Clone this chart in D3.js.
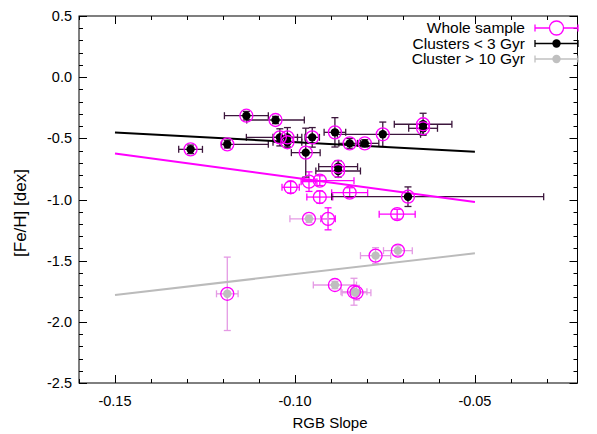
<!DOCTYPE html>
<html><head><meta charset="utf-8">
<script src="https://cdn.jsdelivr.net/npm/d3@7"></script>
<style>body{margin:0;background:#fff}svg{display:block}text{font-family:"Liberation Sans",Arial,sans-serif}</style>
</head><body>
<script>
// Clusters < 3 Gyr: x, y, x-low, x-high, y error
const youngX   = [-0.1135,-0.1054,-0.1290,-0.1188,-0.1042,-0.1021,-0.1021,-0.0970,-0.0952,-0.0889,-0.0848,-0.0806,-0.0756,-0.0644,-0.0644,-0.0880,-0.0880,-0.0686];
const youngY   = [-0.315,-0.350,-0.590,-0.549,-0.492,-0.492,-0.532,-0.617,-0.492,-0.451,-0.541,-0.541,-0.467,-0.385,-0.418,-0.732,-0.767,-0.977];
const youngXlo = [-0.1196,-0.1134,-0.1323,-0.1204,-0.1135,-0.1061,-0.1061,-0.1010,-0.0972,-0.0919,-0.0878,-0.0826,-0.0882,-0.0724,-0.0684,-0.0934,-0.0942,-0.0898];
const youngXhi = [-0.1074,-0.0974,-0.1257,-0.1074,-0.0993,-0.0981,-0.0981,-0.0930,-0.0932,-0.0859,-0.0818,-0.0767,-0.0651,-0.0564,-0.0604,-0.0826,-0.0818,-0.0309];
const youngYerr= [0.035,0.03,0.035,0.03,0.07,0.08,0.04,0.20,0.08,0.12,0.04,0.03,0.10,0.09,0.05,0.05,0.05,0.08];
// Whole-sample-only points
const restX   = [-0.1012,-0.0961,-0.0931,-0.0931,-0.0848,-0.0716,-0.0908];
const restY   = [-0.900,-0.854,-0.846,-0.980,-0.944,-1.120,-1.158];
const restXlo = [-0.1036,-0.0983,-0.0980,-0.0967,-0.0898,-0.0766,-0.0928];
const restXhi = [-0.0988,-0.0939,-0.0836,-0.0895,-0.0798,-0.0666,-0.0888];
const restYerr= [0.047,0.08,0.04,0.05,0.04,0.04,0.09];
// Cluster > 10 Gyr
const oldX   = [-0.1188,-0.0961,-0.0889,-0.0836,-0.0829,-0.0776,-0.0714];
const oldY   = [-1.771,-1.158,-1.699,-1.754,-1.762,-1.459,-1.418];
const oldXlo = [-0.1218,-0.1014,-0.0949,-0.0872,-0.0869,-0.0818,-0.0754];
const oldXhi = [-0.1158,-0.0908,-0.0829,-0.0800,-0.0789,-0.0734,-0.0674];
const oldYerr= [0.30,0.03,0.03,0.11,0.06,0.065,0.04];
// Linear fits (endpoints)
const fitX     = [-0.15,-0.05];
const fitWhole = [-0.624,-1.02];
const fitYoung = [-0.452,-0.61];
const fitOld   = [-1.78,-1.44];
const xTicks = [-0.15,-0.10,-0.05];
const yTicks = [0.5,0.0,-0.5,-1.0,-1.5,-2.0,-2.5];
const legendLabels = ["Whole sample","Clusters < 3 Gyr","Cluster > 10 Gyr"];

const W=597,H=434;
const L=79,R=577.5,T=16,B=383;
const x=d3.scaleLinear().domain([-0.16,-0.0215]).range([L,R]);
const y=d3.scaleLinear().domain([-2.5,0.5]).range([B,T]);
const svg=d3.select("body").append("svg").attr("width",W).attr("height",H);

const mk=(X,Y,Xlo,Xhi,Ye)=>X.map((v,i)=>({x:v,y:Y[i],xlo:Xlo[i],xhi:Xhi[i],ye:Ye[i]}));
const young=mk(youngX,youngY,youngXlo,youngXhi,youngYerr);
const rest=mk(restX,restY,restXlo,restXhi,restYerr);
const old=mk(oldX,oldY,oldXlo,oldXhi,oldYerr);

// frame
svg.append("rect").attr("x",L).attr("y",T).attr("width",R-L).attr("height",B-T).attr("fill","none").attr("stroke","#000").attr("stroke-width",1);

// ticks
const g=svg.append("g").attr("stroke","#000").attr("stroke-width",1);
const xMinor=d3.range(-0.16,-0.021,0.01);
xMinor.forEach(v=>{const px=Math.round(x(v))+0.5;
  const major=xTicks.some(t=>Math.abs(t-v)<1e-6); const len=major?8:4;
  g.append("line").attr("x1",px).attr("x2",px).attr("y1",B).attr("y2",B-len);
  g.append("line").attr("x1",px).attr("x2",px).attr("y1",T).attr("y2",T+len);});
const yMinor=d3.range(-2.5,0.501,0.1);
yMinor.forEach(v=>{const py=Math.round(y(v))+0.5;
  const major=yTicks.some(t=>Math.abs(t-v)<1e-6); const len=major?8:4;
  g.append("line").attr("y1",py).attr("y2",py).attr("x1",L).attr("x2",L+len);
  g.append("line").attr("y1",py).attr("y2",py).attr("x1",R).attr("x2",R-len);});

svg.selectAll(".xt").data(xTicks).enter().append("text").attr("x",d=>x(d)).attr("y",406)
  .attr("text-anchor","middle").attr("font-size",14.5).text(d=>d.toFixed(2));
svg.selectAll(".yt").data(yTicks).enter().append("text").attr("x",72).attr("y",d=>y(d)+5)
  .attr("text-anchor","end").attr("font-size",14.5).text(d=>d.toFixed(1));
svg.append("text").attr("x",330).attr("y",428).attr("text-anchor","middle").attr("font-size",15).text("RGB Slope");
svg.append("text").attr("transform","translate(26,213) rotate(-90)").attr("text-anchor","middle").attr("font-size",17).text("[Fe/H] [dex]");

// fit lines
const line=(ys,col)=>svg.append("line").attr("x1",x(fitX[0])).attr("y1",y(ys[0])).attr("x2",x(fitX[1])).attr("y2",y(ys[1])).attr("stroke",col).attr("stroke-width",2);

// error bars
function errbars(data,col){
  const gg=svg.append("g").attr("stroke",col).attr("stroke-width",1.3).attr("fill","none");
  data.forEach(d=>{
    const cx=x(d.x),cy=y(d.y),x0=x(d.xlo),x1=x(d.xhi),y0=y(d.y+d.ye),y1=y(d.y-d.ye);
    gg.append("line").attr("x1",x0).attr("x2",x1).attr("y1",cy).attr("y2",cy);
    gg.append("line").attr("x1",x0).attr("x2",x0).attr("y1",cy-3.5).attr("y2",cy+3.5);
    gg.append("line").attr("x1",x1).attr("x2",x1).attr("y1",cy-3.5).attr("y2",cy+3.5);
    gg.append("line").attr("x1",cx).attr("x2",cx).attr("y1",y0).attr("y2",y1);
    gg.append("line").attr("x1",cx-3.5).attr("x2",cx+3.5).attr("y1",y0).attr("y2",y0);
    gg.append("line").attr("x1",cx-3.5).attr("x2",cx+3.5).attr("y1",y1).attr("y2",y1);
  });
}
errbars(rest,"#ff00ff");
errbars(old,"#e49ae4");
errbars(young,"#3c163c");
line(fitYoung,"#000");
line(fitWhole,"#ff00ff");
line(fitOld,"#bbbbbb");

svg.append("g").selectAll("circle").data(old).enter().append("circle").attr("cx",d=>x(d.x)).attr("cy",d=>y(d.y)).attr("r",4.2).attr("fill","#bebebe");
svg.append("g").selectAll("circle").data(young).enter().append("circle").attr("cx",d=>x(d.x)).attr("cy",d=>y(d.y)).attr("r",4.2).attr("fill","#000");
svg.append("g").selectAll("circle").data(young.concat(rest,old)).enter().append("circle").attr("cx",d=>x(d.x)).attr("cy",d=>y(d.y)).attr("r",6.5).attr("fill","none").attr("stroke","#ff00ff").attr("stroke-width",1.3);

// legend
const legCols=["#ff00ff","#000","#c0c0c0"];
legendLabels.forEach((t,i)=>{
  const ly=28+i*15.5;
  svg.append("text").attr("x",525).attr("y",ly+5).attr("text-anchor","end").attr("font-size",15.5).text(t);
  const gg=svg.append("g").attr("stroke",legCols[i]).attr("stroke-width",1.3);
  gg.append("line").attr("x1",535).attr("x2",578).attr("y1",ly).attr("y2",ly);
  gg.append("line").attr("x1",535).attr("x2",535).attr("y1",ly-3.5).attr("y2",ly+3.5);
  gg.append("line").attr("x1",578).attr("x2",578).attr("y1",ly-3.5).attr("y2",ly+3.5);
  if(i===0) svg.append("circle").attr("cx",556.5).attr("cy",ly).attr("r",7).attr("fill","#fff").attr("stroke","#ff00ff").attr("stroke-width",1.3);
  else svg.append("circle").attr("cx",556.5).attr("cy",ly).attr("r",4.2).attr("fill",legCols[i]);
});
</script>
</body></html>
